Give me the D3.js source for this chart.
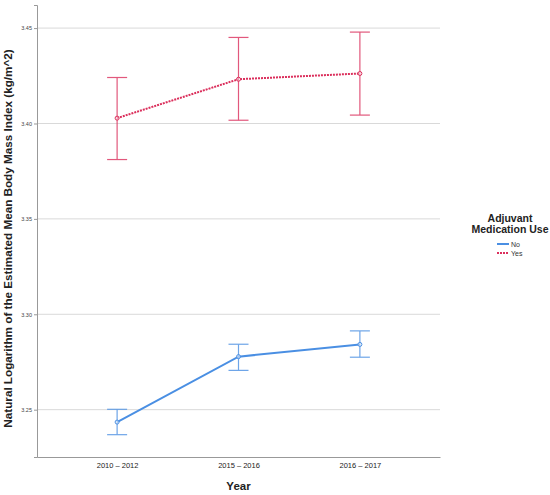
<!DOCTYPE html>
<html>
<head>
<meta charset="utf-8">
<script src="https://cdn.jsdelivr.net/npm/d3@7"></script>
<style>
  body { margin: 0; background: #fff; }
  text { font-family: "Liberation Sans", Arial, sans-serif; }
</style>
</head>
<body>
<div id="chart"></div>
<script>
// data
var years = ["2010 \u2013 2012", "2015 \u2013 2016", "2016 \u2013 2017"];
var yesMean = [3.4028, 3.4232, 3.4262];
var yesLow = [3.3811, 3.4017, 3.4044];
var yesHigh = [3.4241, 3.4451, 3.4479];
var noMean = [3.2435, 3.2778, 3.2842];
var noLow = [3.2369, 3.2706, 3.2775];
var noHigh = [3.2502, 3.2843, 3.2913];
var yTicks = [3.25, 3.30, 3.35, 3.40, 3.45];
var groups = ["No", "Yes"];

var W = 550, H = 495;
var margin = { top: 5, right: 110, bottom: 38, left: 37 },
    width = W - margin.left - margin.right,
    height = H - margin.top - margin.bottom;

var colors = { No: "#4a8fe3", Yes: "#db2f5c" };

var svg = d3.select("#chart").append("svg")
    .attr("width", W).attr("height", H);
var g = svg.append("g")
    .attr("transform", "translate(" + margin.left + "," + margin.top + ")");

var x = d3.scalePoint().domain(years).range([0, width]).padding(0.66);
var y = d3.scaleLinear().domain([3.2252, 3.4621]).range([height, 0]);

// gridlines
g.selectAll(".grid").data(yTicks).enter().append("line")
    .attr("x1", 0).attr("x2", width)
    .attr("y1", function (d) { return y(d); })
    .attr("y2", function (d) { return y(d); })
    .attr("stroke", "#d9d9d9").attr("stroke-width", 1);

// y axis
var yAxis = d3.axisLeft(y).tickValues(yTicks).tickFormat(d3.format(".2f")).tickSize(3).tickPadding(2);
var ya = g.append("g").call(yAxis);
ya.select(".domain").attr("stroke", "#999");
ya.selectAll(".tick line").attr("stroke", "#999");
ya.selectAll("text").attr("font-size", 5.5).attr("fill", "#444");

// x axis
var xAxis = d3.axisBottom(x).tickSize(0).tickPadding(6);
var xa = g.append("g").attr("transform", "translate(0," + height + ")").call(xAxis);
xa.select(".domain").attr("stroke", "#999");
xa.selectAll("text").attr("font-size", 7.5).attr("fill", "#222");

// series
var series = [
    { key: "No", mean: noMean, low: noLow, high: noHigh, dash: null },
    { key: "Yes", mean: yesMean, low: yesLow, high: yesHigh, dash: "2,1" }
];

var line = d3.line()
    .x(function (d) { return x(d.year); })
    .y(function (d) { return y(d.v); });

series.forEach(function (s) {
    var pts = years.map(function (yr, i) {
        return { year: yr, v: s.mean[i], lo: s.low[i], hi: s.high[i] };
    });
    var c = colors[s.key];
    var sg = g.append("g");
    // error bars
    var eb = sg.selectAll(".eb").data(pts).enter().append("g")
        .attr("stroke", c).attr("stroke-width", 1.2).attr("opacity", 0.8);
    eb.append("line")
        .attr("x1", function (d) { return x(d.year); })
        .attr("x2", function (d) { return x(d.year); })
        .attr("y1", function (d) { return y(d.lo); })
        .attr("y2", function (d) { return y(d.hi); });
    eb.append("line")
        .attr("x1", function (d) { return x(d.year) - 10; })
        .attr("x2", function (d) { return x(d.year) + 10; })
        .attr("y1", function (d) { return y(d.lo); })
        .attr("y2", function (d) { return y(d.lo); });
    eb.append("line")
        .attr("x1", function (d) { return x(d.year) - 10; })
        .attr("x2", function (d) { return x(d.year) + 10; })
        .attr("y1", function (d) { return y(d.hi); })
        .attr("y2", function (d) { return y(d.hi); });
    // mean line
    sg.append("path").datum(pts)
        .attr("d", line)
        .attr("fill", "none")
        .attr("stroke", c)
        .attr("stroke-width", 2)
        .attr("stroke-dasharray", s.dash);
    sg.selectAll(".pt").data(pts).enter().append("circle")
        .attr("cx", function (d) { return x(d.year); })
        .attr("cy", function (d) { return y(d.v); })
        .attr("r", 2)
        .attr("fill", "#fff")
        .attr("fill-opacity", 0.5)
        .attr("stroke", c)
        .attr("stroke-width", 1);
});

// axis titles
svg.append("text")
    .attr("transform", "translate(12,238.5) rotate(-90)")
    .attr("text-anchor", "middle")
    .attr("font-size", 11.7).attr("font-weight", "bold").attr("fill", "#222")
    .text("Natural Logarithm of the Estimated Mean Body Mass Index (kg/m^2)");

svg.append("text")
    .attr("x", margin.left + width / 2).attr("y", 490)
    .attr("text-anchor", "middle")
    .attr("font-size", 11.5).attr("font-weight", "bold").attr("fill", "#222")
    .text("Year");

// legend
var lg = svg.append("g").attr("transform", "translate(510,0)");
lg.append("text").attr("x", 0).attr("y", 222).attr("text-anchor", "middle")
    .attr("font-size", 10.5).attr("font-weight", "bold").attr("fill", "#222")
    .text("Adjuvant");
lg.append("text").attr("x", 0).attr("y", 233).attr("text-anchor", "middle")
    .attr("font-size", 10.5).attr("font-weight", "bold").attr("fill", "#222")
    .text("Medication Use");
var li = lg.selectAll(".li").data(groups).enter().append("g")
    .attr("transform", function (d, i) { return "translate(0," + (244 + i * 9) + ")"; });
li.append("line").attr("x1", -13).attr("x2", -1).attr("y1", 0).attr("y2", 0)
    .attr("stroke", function (d) { return colors[d]; })
    .attr("stroke-width", 2)
    .attr("stroke-dasharray", function (d) { return d === "Yes" ? "2,1" : null; });
li.append("text").attr("x", 1).attr("y", 2.5)
    .attr("font-size", 7).attr("fill", "#333")
    .text(function (d) { return d; });
</script>
</body>
</html>
